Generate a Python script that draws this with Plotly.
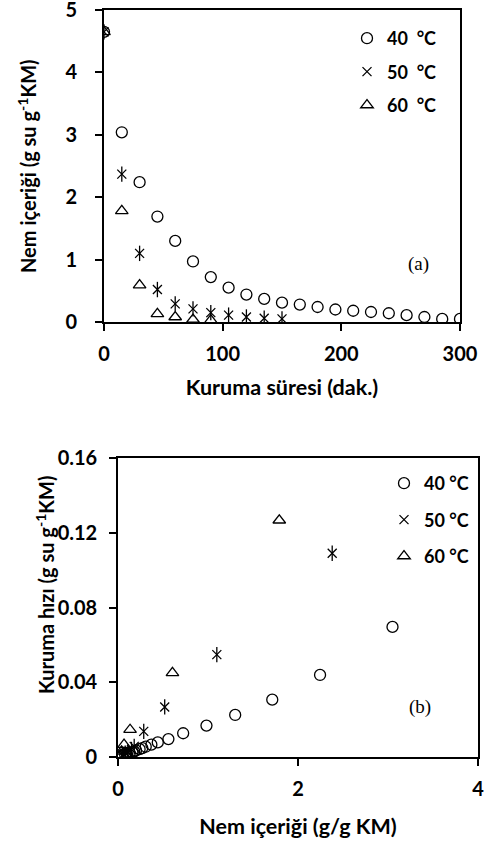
import plotly.graph_objects as go

# ---- data (a): moisture content vs drying time ----
t40 = [0, 15, 30, 45, 60, 75, 90, 105, 120, 135, 150, 165, 180, 195, 210, 225, 240, 255, 270, 285, 300]
m40 = [4.65, 3.04, 2.24, 1.69, 1.30, 0.97, 0.72, 0.55, 0.44, 0.37, 0.31, 0.28, 0.24, 0.20, 0.18, 0.16, 0.14, 0.11, 0.08, 0.05, 0.05]
t50 = [0, 15, 30, 45, 60, 75, 90, 105, 120, 135, 150]
m50 = [4.65, 2.37, 1.10, 0.52, 0.29, 0.21, 0.15, 0.11, 0.08, 0.06, 0.05]
t60 = [0, 15, 30, 45, 60, 75, 90]
m60 = [4.65, 1.78, 0.59, 0.13, 0.08, 0.04, 0.03]

# ---- data (b): drying rate vs moisture content ----
x40 = [3.05, 2.245, 1.714, 1.302, 0.983, 0.724, 0.560, 0.442, 0.371, 0.308, 0.27, 0.24, 0.20, 0.18, 0.16, 0.13, 0.10, 0.08, 0.05]
r40 = [0.0696, 0.0439, 0.0307, 0.0225, 0.0168, 0.0127, 0.0096, 0.0078, 0.0066, 0.0055, 0.0048, 0.0042, 0.0035, 0.0030, 0.0026, 0.0021, 0.0016, 0.0012, 0.0008]
x50 = [2.38, 1.098, 0.519, 0.286, 0.18, 0.15, 0.11, 0.08, 0.06, 0.05]
r50 = [0.109, 0.0548, 0.0268, 0.0137, 0.0057, 0.0040, 0.0027, 0.0020, 0.0013, 0.0007]
x60 = [1.792, 0.605, 0.134, 0.067, 0.04, 0.03]
r60 = [0.1267, 0.045, 0.0146, 0.0066, 0.0030, 0.0010]

labels_a = ["40  °C", "50  °C", "60  °C"]
labels_b = ["40 °C", "50 °C", "60 °C"]

FONT = "Lato"
W, H = 486, 845

fig = go.Figure()

def mk(symbol, size=11):
    return dict(symbol=symbol, size=size, color="black",
                line=dict(color="black", width=1.3))

def add_series(xs, ys, xa, ya, labels, legend):
    fig.add_trace(go.Scatter(x=xs[0], y=ys[0], mode="markers", marker=mk("circle-open"),
                             name=labels[0], xaxis=xa, yaxis=ya, legend=legend,
                             legendgroup=legend + "a"))
    fig.add_trace(go.Scatter(x=xs[1], y=ys[1], mode="markers", marker=mk("x-thin-open", 9),
                             name=labels[1], xaxis=xa, yaxis=ya, legend=legend,
                             legendgroup=legend + "b"))
    fig.add_trace(go.Scatter(x=xs[1], y=ys[1], mode="markers", marker=mk("line-ns-open", 11),
                             showlegend=False, xaxis=xa, yaxis=ya, legend=legend,
                             legendgroup=legend + "b"))
    fig.add_trace(go.Scatter(x=xs[2], y=ys[2], mode="markers", marker=mk("triangle-up-open"),
                             name=labels[2], xaxis=xa, yaxis=ya, legend=legend,
                             legendgroup=legend + "c"))

add_series([t40, t50, t60], [m40, m50, m60], "x", "y", labels_a, "legend")
add_series([x40, x50, x60], [r40, r50, r60], "x2", "y2", labels_b, "legend2")

tickfont = dict(family=FONT, size=20, color="black", weight="bold")
xtitlefont = dict(family=FONT, size=21.5, color="black", weight="bold")
ytitlefont = dict(family=FONT, size=20, color="black", weight="bold")

axis_common = dict(showline=True, linecolor="black", linewidth=1.6, mirror=True,
                   ticks="outside", ticklen=7, tickwidth=1.6, tickcolor="black",
                   showgrid=False, zeroline=False, tickfont=tickfont, automargin=False,
                   ticklabeloverflow="allow")

def px(v):
    return v / W

def py(v):
    return 1 - v / H

fig.update_layout(
    width=W, height=H,
    margin=dict(l=0, r=0, t=0, b=0),
    paper_bgcolor="white", plot_bgcolor="white",
    showlegend=True,
    xaxis=dict(domain=[px(104), px(460)], range=[0, 300], tickvals=[0, 100, 200, 300],
               anchor="y", ticklabelstandoff=6,
               title=dict(text="Kuruma süresi (dak.)", font=xtitlefont, standoff=16),
               **axis_common),
    yaxis=dict(domain=[py(322), py(10)], range=[0, 5], tickvals=[0, 1, 2, 3, 4, 5],
               anchor="x", ticklabelstandoff=14, **axis_common),
    xaxis2=dict(domain=[px(118), px(478)], range=[0, 4], tickvals=[0, 2, 4],
                anchor="y2", ticklabelstandoff=6,
                title=dict(text="Nem içeriği (g/g KM)", font=xtitlefont, standoff=20),
                **axis_common),
    yaxis2=dict(domain=[py(757), py(458)], range=[0, 0.16],
                tickvals=[0, 0.04, 0.08, 0.12, 0.16], ticktext=["0", "0.04", "0.08", "0.12", "0.16"],
                anchor="x2", ticklabelstandoff=8, **axis_common),
    legend=dict(x=px(347), y=py(20), xanchor="left", yanchor="top",
                bgcolor="rgba(0,0,0,0)", tracegroupgap=7,
                font=dict(family=FONT, size=18, color="black", weight="bold")),
    legend2=dict(x=px(384), y=py(465), xanchor="left", yanchor="top",
                 bgcolor="rgba(0,0,0,0)", tracegroupgap=10,
                 font=dict(family=FONT, size=18, color="black", weight="bold")),
    annotations=[
        dict(text="Nem içeriği (g su g<sup>-1</sup>KM)", x=px(27), y=py(166),
             xref="paper", yref="paper", textangle=-90, showarrow=False,
             xanchor="center", yanchor="middle", font=ytitlefont),
        dict(text="Kuruma hızı (g su g<sup>-1</sup>KM)", x=px(45), y=py(585),
             xref="paper", yref="paper", textangle=-90, showarrow=False,
             xanchor="center", yanchor="middle", font=ytitlefont),
        dict(text="(a)", x=265, y=0.93, xref="x", yref="y", showarrow=False,
             font=dict(family="Liberation Serif", size=19, color="black")),
        dict(text="(b)", x=3.35, y=0.027, xref="x2", yref="y2", showarrow=False,
             font=dict(family="Liberation Serif", size=19, color="black")),
    ],
)

fig.write_html("out.html", config={"displayModeBar": False},
               post_script="document.body.style.margin='0';")
